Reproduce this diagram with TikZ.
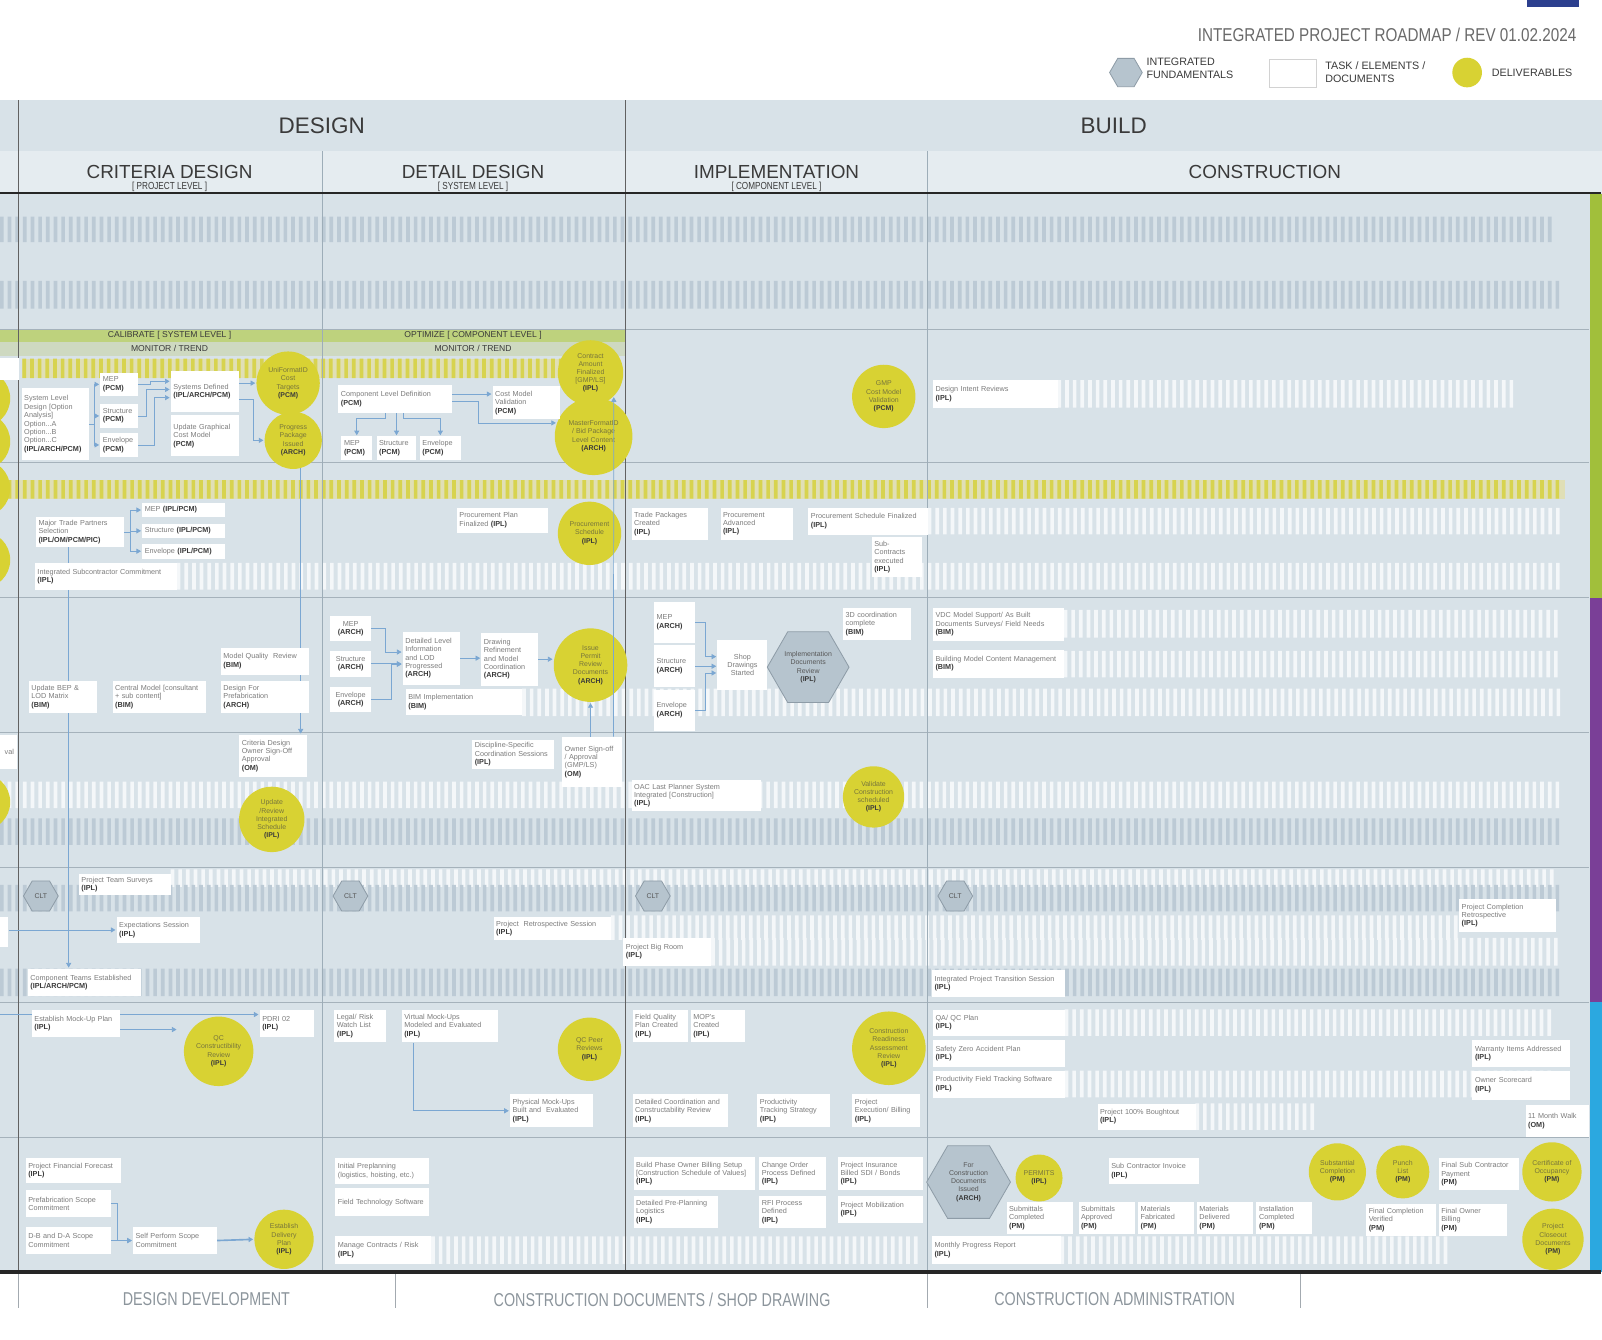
\documentclass[tikz,border=0pt]{standalone}
\usepackage{fontspec}
\setmainfont{Liberation Sans}
\usetikzlibrary{positioning,arrows.meta,shapes.geometric}

\definecolor{bodybg}{HTML}{D8E2E8}
\definecolor{headlight}{HTML}{E5ECF0}
\definecolor{bargray}{HTML}{BCCAD5}
\definecolor{barwhite}{HTML}{F4F7F9}
\definecolor{baryellow}{HTML}{D7D34F}
\definecolor{paleyellow}{HTML}{E0DFB6}
\definecolor{delyellow}{HTML}{D8D233}
\definecolor{hexfill}{HTML}{B6C4CE}
\definecolor{hexline}{HTML}{8E9CA7}
\definecolor{flowblue}{HTML}{7BA7D2}
\definecolor{txtgray}{HTML}{7C7C7C}
\definecolor{txtdark}{HTML}{3A3A3A}
\definecolor{circtxt}{HTML}{77753B}
\definecolor{rowline}{HTML}{A5B2BB}
\definecolor{phaseline}{HTML}{9DADB8}
\definecolor{calgreen}{HTML}{BED27D}
\definecolor{monitorbg}{HTML}{CED9C1}
\definecolor{sidegreen}{HTML}{A1BF3B}
\definecolor{sidepurple}{HTML}{7A3F97}
\definecolor{sideblue}{HTML}{2BA8E0}
\definecolor{navyblock}{HTML}{2C3F8E}
\definecolor{titlegray}{HTML}{6A6A6A}
\definecolor{footgray}{HTML}{8C959C}

\pgfdeclarelayer{background}
\pgfdeclarelayer{links}
\pgfsetlayers{background,links,main}

\newcommand{\taskfont}{\fontsize{7.1}{8.2}\selectfont}
\newcommand{\delivfont}{\fontsize{6.8}{8}\selectfont}
\newcommand{\party}[1]{\textbf{\color{txtdark}(#1)}}

\begin{document}
\begin{tikzpicture}[x=1pt,y=-1pt,>={Triangle[width=5pt,length=4.5pt]},shorten >=1pt,
    task node/.style={fill=white,anchor=north west,align=left,inner xsep=2.5pt,inner ysep=2pt,font=\taskfont,text=txtgray},
    deliverable node/.style={circle,fill=delyellow,align=center,inner sep=0pt,font=\delivfont,text=circtxt},
    fundamental node/.style={regular polygon,regular polygon sides=6,fill=hexfill,draw=hexline,line width=0.8pt,inner sep=0pt,align=center,font=\delivfont,text=txtdark!85},
    flow/.style={draw=flowblue,line width=0.7pt,->},
    row line/.style={draw=rowline,line width=0.8pt},
    heading/.style={text=txtdark,inner sep=0pt},
    footer/.style={text=footgray,inner sep=0pt,font=\fontsize{18.2}{18.2}\selectfont,xscale=0.77}]

\useasboundingbox (0,0) rectangle (1568,1311);

\begin{pgfonlayer}{background}
\fill[white] (0,0) rectangle (1568,1311);
\fill[navyblock] (1495,0) rectangle (1545,7);
\fill[bodybg] (0,98) rectangle (1568,148);
\fill[headlight] (0,148) rectangle (1568,189);
\fill[bodybg] (0,189) rectangle (1568,1245);
\fill[calgreen] (0,322) rectangle (612,335);
\fill[monitorbg] (0,335) rectangle (612,348);
\fill[paleyellow] (22,351) rectangle (600,370);
\fill[paleyellow] (0,470) rectangle (1532,488);
\foreach \clr/\xa/\ya/\xb/\yb in {baryellow/22/351/600/370, baryellow/0/470/1532/488,
    bargray/0/212/1519/237, bargray/0/275/1527/302, bargray/0/801/1527/827, bargray/0/948/1527/975,
    barwhite/1035/372/1486/399, barwhite/908/497/1527/523, barwhite/173/551/1527/577, barwhite/1041/597/1526/624,
    barwhite/1041/637/1526/663, barwhite/511/674/1530/701, barwhite/0/765/1527/791, barwhite/167/851/1527/868,
    bargray/0/866/1527/892, barwhite/598/896/1428/920, barwhite/696/918/1527/945,
    barwhite/1042/988/1524/1014, barwhite/1042/1048/1524/1074, barwhite/1170/1080/1287/1106,
    barwhite/422/1210/905/1237, barwhite/1038/1210/1420/1237}{
  \pgfmathtruncatemacro{\nbars}{(\xb-\xa-3.6)/7.5}
  \fill[\clr] \foreach \i in {0,...,\nbars} {(\xa+7.5*\i,\ya) rectangle ++(3.6,\yb-\ya)};
}
\foreach \y in {322,453,585,717,849,981,1113}
  \draw[row line] (0,\y) -- (1556,\y);
\draw[txtdark!80,line width=1pt] (18,98) -- (18,1245);
\draw[txtdark!80,line width=1pt] (612,98) -- (612,1245);
\draw[phaseline,line width=0.6pt] (315,148) -- (315,1245);
\draw[phaseline,line width=0.6pt] (908,148) -- (908,1245);
\fill[sidegreen] (1556,190) rectangle (1568,585);
\fill[sidepurple] (1556,585) rectangle (1568,981);
\fill[sideblue] (1556,981) rectangle (1568,1245);
\draw[black!85,line width=2.5pt] (0,189) -- (1568,189);
\draw[black!85,line width=3pt] (0,1245) -- (1568,1245);
\foreach \x in {18,387,908,1273}
  \draw[footgray!80,line width=1pt] (\x,1247) -- (\x,1281);
\foreach \y in {390,432,478,548,785}
  \fill[delyellow] (-18,\y) circle (28);

\node[deliverable node,minimum size=62pt] (uniF) at (282,375) {UniFormatID\\Cost\\Targets\\\party{PCM}};
\node[deliverable node,minimum size=56pt] (progP) at (287,431) {Progress\\Package\\Issued\\\party{ARCH}};
\node[deliverable node,minimum size=64pt] (contrA) at (578,365) {Contract\\Amount\\Finalized\\{[GMP/LS]}\\\party{IPL}};
\node[deliverable node,minimum size=76pt] (masterF) at (581,427) {MasterFormatID\\/ Bid Package\\Level Content\\\party{ARCH}};
\node[deliverable node,minimum size=62pt] (gmpC) at (865,388) {GMP\\Cost Model\\Validation\\\party{PCM}};
\node[deliverable node,minimum size=62pt] (procS) at (577,522) {Procurement\\Schedule\\\party{IPL}};
\node[deliverable node,minimum size=72pt] (issueP) at (578,651) {Issue\\Permit\\Review\\Documents\\\party{ARCH}};
\node[deliverable node,minimum size=64pt] (updR) at (266,802) {Update\\/Review\\Integrated\\Schedule\\\party{IPL}};
\node[deliverable node,minimum size=60pt] (valC) at (855,780) {Validate\\Construction\\scheduled\\\party{IPL}};
\node[deliverable node,minimum size=68pt] (qcCon) at (214,1029) {QC\\Constructibility\\Review\\\party{IPL}};
\node[deliverable node,minimum size=62pt] (qcPeer) at (577,1027) {QC Peer\\Reviews\\\party{IPL}};
\node[deliverable node,minimum size=72pt] (conR) at (870,1026) {Construction\\Readiness\\Assessment\\Review\\\party{IPL}};
\node[deliverable node,minimum size=58pt] (estD) at (278,1213) {Establish\\Delivery\\Plan\\\party{IPL}};
\node[deliverable node,minimum size=46pt] (permits) at (1017,1153) {PERMITS\\\party{IPL}};
\node[deliverable node,minimum size=56pt] (subst) at (1309,1147) {Substantial\\Completion\\\party{PM}};
\node[deliverable node,minimum size=52pt] (punch) at (1373,1147) {Punch\\List\\\party{PM}};
\node[deliverable node,minimum size=58pt] (certO) at (1519,1147) {Certificate of\\Occupancy\\\party{PM}};
\node[deliverable node,minimum size=60pt] (closeD) at (1520,1213) {Project\\Closeout\\Documents\\\party{PM}};
\end{pgfonlayer}

\node[anchor=east,inner sep=0pt,text=titlegray,font=\fontsize{18.2}{18.2}\selectfont,xscale=0.82] (title) at (1543,34) {INTEGRATED PROJECT ROADMAP / REV 01.02.2024};
\node[fundamental node,minimum size=32pt] (legHex) at (1102,71) {};
\node[anchor=west,align=left,inner sep=0pt,text=txtdark,font=\fontsize{10.5}{12.8}\selectfont] (legHexT) at (1122,67) {INTEGRATED\\FUNDAMENTALS};
\node[draw=gray!35,fill=white,anchor=north west,minimum width=46pt,minimum height=27pt] (legBox) at (1242,58) {};
\node[anchor=west,align=left,inner sep=0pt,text=txtdark,font=\fontsize{10.5}{12.8}\selectfont] (legBoxT) at (1297,71) {TASK / ELEMENTS /\\DOCUMENTS};
\node[circle,fill=delyellow,minimum size=29pt] (legDel) at (1436,71) {};
\node[anchor=west,inner sep=0pt,text=txtdark,font=\fontsize{10.5}{12.8}\selectfont] (legDelT) at (1460,71) {DELIVERABLES};

\node[heading,font=\fontsize{22}{22}\selectfont] (designH) at (315,123) {DESIGN};
\node[heading,font=\fontsize{22}{22}\selectfont] (buildH) at (1090,123) {BUILD};
\node[heading,font=\fontsize{18.5}{18.5}\selectfont] (critH) at (166,168) {CRITERIA DESIGN};
\node[heading,font=\fontsize{18.5}{18.5}\selectfont] (detH) at (463,168) {DETAIL DESIGN};
\node[heading,font=\fontsize{18.5}{18.5}\selectfont] (implH) at (760,168) {IMPLEMENTATION};
\node[heading,font=\fontsize{18.5}{18.5}\selectfont] (consH) at (1238,168) {CONSTRUCTION};
\node[heading,font=\fontsize{10}{10}\selectfont,xscale=0.8] (critL) at (166,183) {[ PROJECT LEVEL ]};
\node[heading,font=\fontsize{10}{10}\selectfont,xscale=0.8] (detL0) at (463,183) {[ SYSTEM LEVEL ]};
\node[heading,font=\fontsize{10}{10}\selectfont,xscale=0.8] (implL) at (760,183) {[ COMPONENT LEVEL ]};
\node[heading,font=\fontsize{8.4}{8.4}\selectfont] (calT) at (166,328.5) {CALIBRATE [ SYSTEM LEVEL ]};
\node[heading,font=\fontsize{8.4}{8.4}\selectfont] (optT) at (463,328.5) {OPTIMIZE [ COMPONENT LEVEL ]};
\node[heading,font=\fontsize{8.4}{8.4}\selectfont] (monA) at (166,341.5) {MONITOR / TREND};
\node[heading,font=\fontsize{8.4}{8.4}\selectfont] (monB) at (463,341.5) {MONITOR / TREND};
\node[footer] (ddF) at (202,1272) {DESIGN DEVELOPMENT};
\node[footer] (cdF) at (648,1272) {CONSTRUCTION DOCUMENTS / SHOP DRAWING};
\node[footer] (caF) at (1091,1272) {CONSTRUCTION ADMINISTRATION};

\node[task node,inner sep=0pt,minimum width=18pt,minimum height=22pt] (prevC) at (0,350) {};
\node[task node,text width=61pt,minimum height=70pt] (sysL) at (21,380) {System Level\\Design [Option\\Analysis]\\Option...A\\Option...B\\Option...C\\\party{IPL/ARCH/PCM}};
\node[task node,text width=32pt,minimum height=22pt] (mepP) at (98,365) {MEP\\\party{PCM}};
\node[task node,text width=32pt,minimum height=23pt,below right=8pt and 0pt of mepP.south west] (strP) {Structure\\\party{PCM}};
\node[task node,text width=32pt,minimum height=23pt,below right=5pt and 0pt of strP.south west] (envP) {Envelope\\\party{PCM}};
\node[task node,text width=62pt,minimum height=40pt] (sysDef) at (167,363) {Systems Defined\\\party{IPL/ARCH/PCM}};
\node[task node,text width=62pt,minimum height=40pt,below right=3pt and 0pt of sysDef.south west] (updG) {Update Graphical\\Cost Model\\\party{PCM}};
\node[task node,text width=106pt,minimum height=27pt] (compL) at (331,377) {Component Level Definition\\\party{PCM}};
\node[task node,text width=25pt,minimum height=23pt] (mepO) at (334,427) {MEP\\\party{PCM}};
\node[task node,text width=34pt,minimum height=23pt,right=4pt of mepO] (strO) {Structure\\\party{PCM}};
\node[task node,text width=35pt,minimum height=23pt,right=3pt of strO] (envO) {Envelope\\\party{PCM}};
\node[task node,text width=61pt,minimum height=32pt] (costM) at (482,378) {Cost Model\\Validation\\\party{PCM}};
\node[task node,text width=117pt,minimum height=27pt] (desI) at (913,372) {Design Intent Reviews\\\party{IPL}};

\node[task node,text width=81pt,minimum height=29pt] (majT) at (35,506) {Major Trade Partners\\Selection\\\party{IPL/OM/PCM/PIC}};
\node[task node,text width=76pt,minimum height=14pt] (mepT) at (139,492) {MEP \party{IPL/PCM}};
\node[task node,text width=76pt,minimum height=14pt,below right=6pt and 0pt of mepT.south west] (strT) {Structure \party{IPL/PCM}};
\node[task node,text width=76pt,minimum height=15pt,below right=5pt and 0pt of strT.south west] (envT) {Envelope \party{IPL/PCM}};
\node[task node,text width=134pt,minimum height=26pt] (intS) at (34,551) {Integrated Subcontractor Commitment\\\party{IPL}};
\node[task node,text width=84pt,minimum height=24pt] (procP) at (447,497) {Procurement Plan\\Finalized \party{IPL}};
\node[task node,text width=70pt,minimum height=31pt] (tradeP) at (618,497) {Trade Packages\\Created\\\party{IPL}};
\node[task node,text width=66pt,minimum height=31pt] (procA) at (705,497) {Procurement\\Advanced\\\party{IPL}};
\node[task node,text width=112pt,minimum height=26pt] (procF) at (791,497) {Procurement Schedule Finalized\\\party{IPL}};
\node[task node,text width=44pt,minimum height=40pt] (subC) at (853,525) {Sub-\\Contracts\\executed\\\party{IPL}};

\node[task node,text width=62pt,minimum height=32pt] (updB) at (28,666) {Update BEP \&\\LOD Matrix\\\party{BIM}};
\node[task node,text width=86pt,minimum height=32pt] (cenM) at (110,666) {Central Model [consultant\\+ sub content]\\\party{BIM}};
\node[task node,text width=81pt,minimum height=26pt] (modQ) at (216,634) {Model Quality\ \ Review\\\party{BIM}};
\node[task node,text width=81pt,minimum height=32pt] (desF) at (216,666) {Design For\\Prefabrication\\\party{ARCH}};
\node[task node,align=center,text width=35pt,minimum height=24pt] (mepA) at (323,603) {MEP\\\party{ARCH}};
\node[task node,align=center,text width=35pt,minimum height=25pt] (strA) at (323,637) {Structure\\\party{ARCH}};
\node[task node,align=center,text width=35pt,minimum height=25pt] (envA) at (323,672) {Envelope\\\party{ARCH}};
\node[task node,text width=51pt,minimum height=52pt] (detL) at (394,618) {Detailed Level\\Information\\and LOD\\Progressed\\\party{ARCH}};
\node[task node,text width=50pt,minimum height=52pt] (drawR) at (471,619) {Drawing\\Refinement\\and Model\\Coordination\\\party{ARCH}};
\node[task node,text width=109pt,minimum height=26pt] (bimI) at (397,674) {BIM Implementation\\\party{BIM}};
\node[task node,text width=35pt,minimum height=40pt] (mepB) at (640,589) {MEP\\\party{ARCH}};
\node[task node,text width=35pt,minimum height=41pt,below right=2pt and 0pt of mepB.south west] (strB) {Structure\\\party{ARCH}};
\node[task node,text width=35pt,minimum height=40pt,below right=2pt and 0pt of strB.south west] (envB) {Envelope\\\party{ARCH}};
\node[task node,align=center,text width=44pt,minimum height=49pt] (shopD) at (702,626) {Shop\\Drawings\\Started};
\node[task node,text width=61pt,minimum height=31pt] (d3C) at (825,595) {3D coordination\\complete\\\party{BIM}};
\node[task node,text width=123pt,minimum height=32pt] (vdcM) at (913,595) {VDC Model Support/ As Built\\Documents Surveys/ Field Needs\\\party{BIM}};
\node[task node,text width=123pt,minimum height=27pt] (bldM) at (913,636) {Building Model Content Management\\\party{BIM}};

\node[task node,align=right,text width=11pt,minimum height=33pt] (prevA) at (0,719) {val};
\node[task node,text width=61pt,minimum height=41pt] (critS) at (234,719) {Criteria Design\\Owner Sign-Off\\Approval\\\party{OM}};
\node[task node,text width=75pt,minimum height=28pt] (discS) at (462,724) {Discipline-Specific\\Coordination Sessions\\\party{IPL}};
\node[task node,text width=54pt,minimum height=49pt] (ownS) at (550,721) {Owner Sign-off\\/ Approval\\(GMP/LS)\\\party{OM}};
\node[task node,text width=122pt,minimum height=31pt] (oacL) at (618,763) {OAC Last Planner System\\Integrated [Construction]\\\party{IPL}};

\node[task node,text width=85pt,minimum height=21pt] (teamS) at (77,855) {Project Team Surveys\\\party{IPL}};
\node[task node,inner sep=0pt,minimum width=8pt,minimum height=30pt] (prevE) at (0,897) {};
\node[task node,text width=77pt,minimum height=26pt] (expS) at (114,897) {Expectations Session\\\party{IPL}};
\node[task node,text width=110pt,minimum height=23pt] (retS) at (483,897) {Project\ \ Retrospective Session\\\party{IPL}};
\node[task node,text width=81pt,minimum height=27pt] (bigR) at (610,918) {Project Big Room\\\party{IPL}};
\node[task node,text width=106pt,minimum height=27pt] (compT) at (27,948) {Component Teams Established\\\party{IPL/ARCH/PCM}};
\node[task node,text width=125pt,minimum height=27pt] (intT) at (912,949) {Integrated Project Transition Session\\\party{IPL}};
\node[task node,text width=90pt,minimum height=32pt] (compR) at (1428,880) {Project Completion\\Retrospective\\\party{IPL}};

\coordinate (prevP) at (0,993);
\node[task node,text width=81pt,minimum height=27pt] (mockP) at (31,988) {Establish Mock-Up Plan\\\party{IPL}};
\node[task node,text width=48pt,minimum height=27pt] (pdri) at (254,988) {PDRI 02\\\party{IPL}};
\node[task node,text width=46pt,minimum height=32pt] (legR) at (327,988) {Legal/ Risk\\Watch List\\\party{IPL}};
\node[task node,text width=89pt,minimum height=32pt] (virt) at (393,988) {Virtual Mock-Ups\\Modeled and Evaluated\\\party{IPL}};
\node[task node,text width=76pt,minimum height=32pt] (phys) at (499,1071) {Physical Mock-Ups\\Built and\ \ Evaluated\\\party{IPL}};
\node[task node,text width=49pt,minimum height=32pt] (fqP) at (619,988) {Field Quality\\Plan Created\\\party{IPL}};
\node[task node,text width=48pt,minimum height=32pt] (mopC) at (676,988) {MOP's\\Created\\\party{IPL}};
\node[task node,text width=88pt,minimum height=32pt] (detC) at (619,1071) {Detailed Coordination and\\Constructability Review\\\party{IPL}};
\node[task node,text width=66pt,minimum height=32pt] (prodT) at (741,1071) {Productivity\\Tracking Strategy\\\party{IPL}};
\node[task node,text width=61pt,minimum height=32pt] (projE) at (834,1071) {Project\\Execution/ Billing\\\party{IPL}};
\node[task node,text width=124pt,minimum height=26pt] (qaP) at (913,988) {QA/ QC Plan\\\party{IPL}};
\node[task node,text width=124pt,minimum height=26pt] (safZ) at (913,1018) {Safety Zero Accident Plan\\\party{IPL}};
\node[task node,text width=124pt,minimum height=26pt] (prodF) at (913,1048) {Productivity Field Tracking Software\\\party{IPL}};
\node[task node,text width=90pt,minimum height=26pt] (warI) at (1441,1018) {Warranty Items Addressed\\\party{IPL}};
\node[task node,text width=90pt,minimum height=28pt] (ownSc) at (1441,1048) {Owner Scorecard\\\party{IPL}};
\node[task node,text width=91pt,minimum height=26pt] (boughT) at (1074,1080) {Project 100\% Boughtout\\\party{IPL}};
\node[task node,text width=57pt,minimum height=32pt] (monW) at (1493,1081) {11 Month Walk\\\party{OM}};

\node[task node,text width=88pt,minimum height=25pt] (finF) at (25,1133) {Project Financial Forecast\\\party{IPL}};
\node[task node,text width=78pt,minimum height=26pt] (prefS) at (25,1165) {Prefabrication Scope\\Commitment};
\node[task node,text width=78pt,minimum height=26pt] (dbS) at (25,1201) {D-B and D-A Scope\\Commitment};
\node[task node,text width=77pt,minimum height=26pt] (selfP) at (130,1201) {Self Perform Scope\\Commitment};
\node[task node,text width=87pt,minimum height=26pt] (initP) at (328,1133) {Initial Preplanning\\(logistics, hoisting, etc.)};
\node[task node,text width=87pt,minimum height=27pt] (fieldT) at (328,1163) {Field Technology Software};
\node[task node,text width=89pt,minimum height=27pt] (manC) at (328,1210) {Manage Contracts / Risk\\\party{IPL}};
\node[task node,text width=114pt,minimum height=33pt] (bpoB) at (620,1132) {Build Phase Owner Billing Setup\\{[Construction Schedule of Values]}\\\party{IPL}};
\node[task node,text width=60pt,minimum height=33pt] (chgO) at (743,1132) {Change Order\\Process Defined\\\party{IPL}};
\node[task node,text width=78pt,minimum height=33pt] (insB) at (820,1132) {Project Insurance\\Billed SDI / Bonds\\\party{IPL}};
\node[task node,text width=78pt,minimum height=32pt] (dppL) at (620,1170) {Detailed Pre-Planning\\Logistics\\\party{IPL}};
\node[task node,text width=60pt,minimum height=32pt] (rfiP) at (743,1170) {RFI Process\\Defined\\\party{IPL}};
\node[task node,text width=78pt,minimum height=27pt] (mobP) at (820,1170) {Project Mobilization\\\party{IPL}};
\node[task node,text width=83pt,minimum height=26pt] (subI) at (1085,1133) {Sub Contractor Invoice\\\party{IPL}};
\node[task node,text width=60pt,minimum height=32pt] (submC) at (985,1176) {Submittals\\Completed\\\party{PM}};
\node[task node,text width=50pt,minimum height=32pt,right=5pt of submC] (submA) {Submittals\\Approved\\\party{PM}};
\node[task node,text width=50pt,minimum height=32pt,right=3pt of submA] (matF) {Materials\\Fabricated\\\party{PM}};
\node[task node,text width=50pt,minimum height=32pt,right=2pt of matF] (matD) {Materials\\Delivered\\\party{PM}};
\node[task node,text width=49pt,minimum height=32pt,right=3pt of matD] (instC) {Installation\\Completed\\\party{PM}};
\node[task node,text width=74pt,minimum height=32pt] (finSP) at (1408,1133) {Final Sub Contractor\\Payment\\\party{PM}};
\node[task node,text width=63pt,minimum height=32pt] (finCV) at (1337,1178) {Final Completion\\Verified\\\party{PM}};
\node[task node,text width=62pt,minimum height=32pt] (finOB) at (1408,1178) {Final Owner\\Billing\\\party{PM}};
\node[task node,text width=121pt,minimum height=27pt] (monP) at (912,1210) {Monthly Progress Report\\\party{IPL}};

\node[fundamental node,minimum size=80pt] (impR) at (791,653) {Implementation\\Documents\\Review\\\party{IPL}};
\node[fundamental node,minimum size=82pt] (forI) at (948,1157) {For\\Construction\\Documents\\Issued\\\party{ARCH}};
\foreach \n/\x in {1/40,2/343,3/639,4/935}
  \node[fundamental node,minimum size=34pt] (clt\n) at (\x,877) {CLT};

\begin{pgfonlayer}{links}
\draw[flow] (sysL.east) -- ++(5,0) |- (mepP.west);
\draw[flow] (sysL.east) -- ++(5,0) |- (strP.west);
\draw[flow] (sysL.east) -- ++(5,0) |- (envP.west);
\draw[flow] (mepP.east) -- ++(12,0) |- ([yshift=10pt]sysDef.west);
\draw[flow] (strP.east) -- ++(8,0) |- ([yshift=2pt]sysDef.west);
\draw[flow] (envP.east) -- ++(16,0) |- ([yshift=-6pt]sysDef.west);
\draw[flow] (sysDef.east |- uniF) -- (uniF.west);
\draw[flow] ([yshift=-8pt]sysDef.east) -- ++(14,0) |- (progP.west);
\draw[flow] (progP.-75) -- (progP.-75 |- critS.north);
\draw[flow] ([xshift=-10pt]compL.south) -- ++(0,5) -| (mepO.north);
\draw[flow] (compL.south -| strO.north) -- (strO.north);
\draw[flow] ([xshift=8pt]compL.south) -- ++(0,5) -| (envO.north);
\draw[flow] ([yshift=5pt]compL.east) -- ([yshift=5pt]compL.east -| costM.west);
\draw[flow] ([yshift=-2pt]compL.east) -- ++(26,0) |- (masterF.160);
\draw[flow] ([xshift=-9pt]ownS.north east) -- (contrA.-45);
\draw[flow] (ownS.north -| issueP.south) -- (issueP.south);
\draw[flow] (majT.east) -- ++(6,0) |- (mepT.west);
\draw[flow] (majT.east) -- ++(6,0) |- (strT.west);
\draw[flow] (majT.east) -- ++(6,0) |- (envT.west);
\draw[flow] ([xshift=-11pt]majT.south) -- ([xshift=-11pt]majT.south |- compT.north);
\draw[flow] (mepA.east) -- ++(14,0) |- ([yshift=6pt]detL.west);
\draw[flow] (strA.east) -- (strA.east -| detL.west);
\draw[flow] (envA.east) -- ++(20,0) |- ([yshift=-6pt]detL.west);
\draw[flow] (detL.east) -- (detL.east -| drawR.west);
\draw[flow] (drawR.east) -- (drawR.east -| issueP.west);
\draw[flow,{Circle[length=3pt]}->] ([xshift=-3pt]mepB.east) -- ++(13,0) |- ([yshift=8pt]shopD.west);
\draw[flow,{Circle[length=3pt]}->] ([xshift=-3pt]strB.east) -- (strB.east -| shopD.west);
\draw[flow] (envB.east) -- ++(10,0) |- ([yshift=-8pt]shopD.west);
\draw[flow] (prevE.east |- expS.west) -- (expS.west);
\draw[flow] (prevP) -- (prevP -| pdri.west);
\draw[flow,shorten >=7pt] ([yshift=-6pt]mockP.east) -- ([yshift=-6pt]mockP.east -| qcCon.west);
\draw[flow] ([xshift=12pt]virt.south west) |- (phys.west);
\draw[flow] (prefS.east) -- ++(6,0) |- (selfP.west);
\draw[flow] (dbS.east) -- (selfP.west);
\draw[flow,line width=1.6pt] (selfP.east) -- (estD.west);
\end{pgfonlayer}
\end{tikzpicture}
\end{document}
